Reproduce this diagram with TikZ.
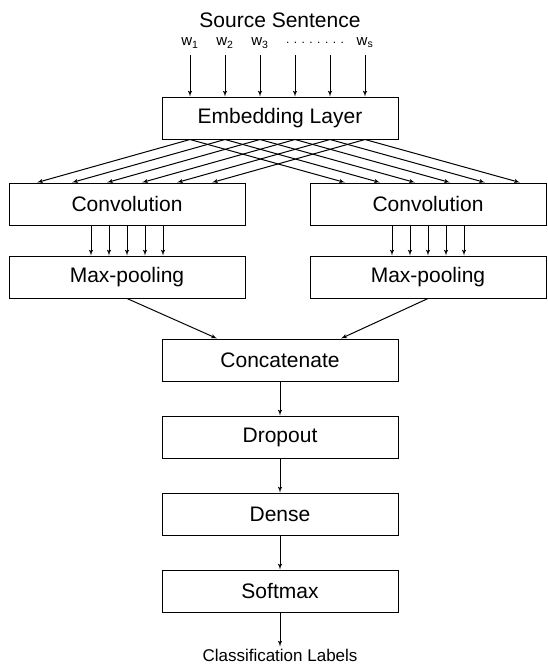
\documentclass[tikz,border=0pt]{standalone}
\usepackage{fontspec}
\setmainfont{Liberation Sans}
\usetikzlibrary{calc}
\usetikzlibrary{arrows}

\tikzset{
  layer/.style={draw, line width=1pt, minimum width=236pt, minimum height=42pt,
    inner sep=0pt, font=\fontsize{21}{24}\selectfont},
  flow/.style={line width=1pt, ->, >=latex'},
}

\begin{document}
\begin{tikzpicture}[x=1pt, y=-1pt]
\useasboundingbox (0,0) rectangle (547,667);
% title and words
\node (src) at (280,20) {\fontsize{21}{24}\selectfont Source Sentence};
\node (w1) at (190,43) {\fontsize{15}{17}\selectfont w\textsubscript{1}};
\node (w2) at (225,43) {\fontsize{15}{17}\selectfont w\textsubscript{2}};
\node (w3) at (260,43) {\fontsize{15}{17}\selectfont w\textsubscript{3}};
\node (dots) at (315,43) {\fontsize{12}{14}\selectfont . . . . . . . .};
\node (ws) at (365,43) {\fontsize{15}{17}\selectfont w\textsubscript{s}};

% layers
\node[layer] (embed) at (280,118) {Embedding Layer};
\node[layer] (convL) at (127,204) {Convolution};
\node[layer] (convR) at (428,204) {Convolution};
\node[layer] (poolL) at (127,277) {Max-pooling};
\node[layer] (poolR) at (428,277) {Max-pooling};
\node[layer] (concat) at (280,360) {Concatenate};
\node[layer] (drop) at (280,437) {Dropout};
\node[layer] (dense) at (280,514) {Dense};
\node[layer] (softmax) at (280,591) {Softmax};
\node[inner sep=2pt] (labels) at (280,655) {\fontsize{17}{19}\selectfont Classification Labels};

% words into embedding, embedding into both convolutions
\foreach \i in {0,...,5} {
 \coordinate (top\i) at (190+35*\i,55);
 \draw[flow] (top\i) -- (top\i |- embed.north);
 \coordinate (bot\i) at (top\i |- embed.south);
 \draw[flow] (bot\i) -- ($(bot\i |- convL.north)+(-153,0)$);
 \draw[flow] (bot\i) -- ($(bot\i |- convR.north)+(155,0)$);
}
% convolution into pooling
\foreach \d in {-36,-18,0,18,36} {
 \draw[flow] ($(convL.south)+(\d,0)$) -- ($(poolL.north)+(\d,0)$);
 \draw[flow] ($(convR.south)+(\d,0)$) -- ($(poolR.north)+(\d,0)$);
}
\draw[flow] (poolL.south) -- ($(concat.north)+(-63,0)$);
\draw[flow] (poolR.south) -- ($(concat.north)+(61,0)$);
\draw[flow] (concat) -- (drop);
\draw[flow] (drop) -- (dense);
\draw[flow] (dense) -- (softmax);
\draw[flow] (softmax) -- (labels);
\end{tikzpicture}
\end{document}
